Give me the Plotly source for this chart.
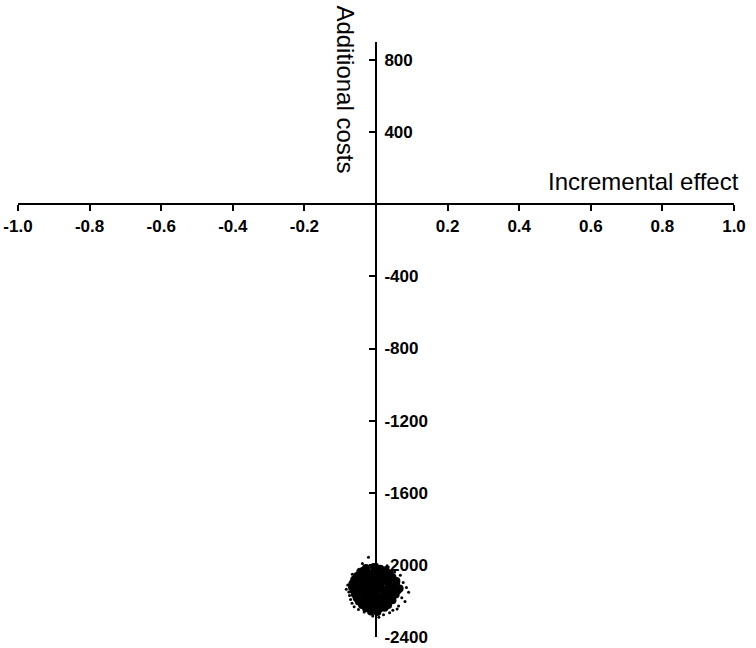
import plotly.graph_objects as go

# axis setup
x_range = [-1.0, 1.0]
y_range = [-2400, 900]
x_tickvals = [-1.0, -0.8, -0.6, -0.4, -0.2, 0.2, 0.4, 0.6, 0.8, 1.0]
x_ticktext = ['-1.0', '-0.8', '-0.6', '-0.4', '-0.2', '0.2', '0.4', '0.6', '0.8', '1.0']
y_tickvals = [800, 400, -400, -800, -1200, -1600, -2000, -2400]
y_ticktext = ['800', '400', '-400', '-800', '-1200', '-1600', '-2000', '-2400']

# bootstrap replicates, dense core of the cloud
core_x = [-0.028, -0.006, 0.012, 0.027,
          -0.044, -0.022, -0.003, 0.018, 0.038,
          -0.053, -0.036, -0.014, 0.006, 0.024, 0.046,
          -0.061, -0.041, -0.021, 0.002, 0.019, 0.041, 0.057,
          -0.066, -0.046, -0.027, -0.004, 0.016, 0.034, 0.056,
          -0.067, -0.047, -0.024, -0.007, 0.013, 0.036, 0.054, 0.066,
          -0.062, -0.038, -0.019, 0.001, 0.022, 0.042, 0.061,
          -0.059, -0.042, -0.018, -0.001, 0.021, 0.038, 0.055,
          -0.054, -0.033, -0.016, 0.007, 0.026, 0.044,
          -0.048, -0.031, -0.009, 0.011, 0.029, 0.046,
          -0.039, -0.021, 0.002, 0.018, 0.034,
          -0.028, -0.011, 0.009, 0.024,
          -0.014, 0.004,
          -0.035, 0.030, -0.010, 0.010, -0.030, 0.045, -0.050, 0.000, -0.020, 0.030]
core_y = [-2018, -2012, -2022, -2030,
          -2038, -2044, -2035, -2041, -2047,
          -2062, -2058, -2066, -2057, -2063, -2068,
          -2083, -2078, -2086, -2080, -2088, -2076, -2090,
          -2104, -2098, -2107, -2101, -2095, -2108, -2102,
          -2124, -2118, -2127, -2119, -2129, -2116, -2125, -2131,
          -2143, -2147, -2139, -2146, -2138, -2149, -2141,
          -2163, -2158, -2166, -2159, -2167, -2157, -2164,
          -2184, -2178, -2186, -2179, -2188, -2176,
          -2203, -2197, -2206, -2198, -2204, -2196,
          -2222, -2217, -2225, -2216, -2223,
          -2241, -2236, -2244, -2238,
          -2258, -2262,
          -2090, -2150, -2170, -2110, -2130, -2130, -2150, -2200, -2060, -2080]

# scattered replicates at the edge of the cloud
halo_x = [-0.021, -0.038, 0.003, 0.031, -0.066, 0.068, -0.079, 0.076, 0.091, -0.076,
          0.072, -0.071, 0.081, -0.067, -0.061, 0.063, -0.049, 0.047, -0.033, 0.038,
          0.021, -0.009, 0.008, -0.058, 0.052, -0.074, 0.085, -0.083, 0.059, -0.040]
halo_y = [-1958, -1992, -1998, -2005, -2052, -2058, -2112, -2098, -2152, -2151,
          -2183, -2192, -2203, -2213, -2232, -2228, -2247, -2252, -2262, -2266,
          -2276, -2283, -2290, -2070, -2040, -2170, -2125, -2135, -2245, -2020]

tick_font = dict(family='Arial, Liberation Sans', size=17, color='black', weight='bold')
label_font = dict(family='Arial, Liberation Sans', size=24, color='black')

fig = go.Figure()
fig.add_trace(go.Scatter(x=core_x, y=core_y, mode='markers',
                         marker=dict(color='black', size=8), showlegend=False))
fig.add_trace(go.Scatter(x=halo_x, y=halo_y, mode='markers',
                         marker=dict(color='black', size=3), showlegend=False))

# x axis crosses at cost 0, y axis at effect 0
x_axis_pos = (0 - y_range[0]) / (y_range[1] - y_range[0])
y_axis_pos = (0 - x_range[0]) / (x_range[1] - x_range[0])

fig.update_layout(
    width=756, height=648,
    margin=dict(l=18, r=22, t=42, b=11),
    paper_bgcolor='white', plot_bgcolor='white',
    xaxis=dict(range=x_range, tickvals=x_tickvals, ticktext=x_ticktext, tickfont=tick_font,
               showline=True, linecolor='black', linewidth=2, ticks='outside', ticklen=6,
               tickwidth=2, tickcolor='black', showgrid=False, zeroline=False,
               anchor='free', position=x_axis_pos, automargin=False),
    yaxis=dict(range=y_range, tickvals=y_tickvals, ticktext=y_ticktext, tickfont=tick_font,
               showline=True, linecolor='black', linewidth=2, ticks='inside', ticklen=6,
               tickwidth=2, tickcolor='black', showgrid=False, zeroline=False,
               ticklabelstandoff=4,
               side='right', anchor='free', position=y_axis_pos, automargin=False),
    annotations=[
        dict(text='Incremental effect', xref='paper', yref='paper', x=1.01, y=0.766,
             xanchor='right', yanchor='middle', showarrow=False, font=label_font),
        dict(text='Additional costs', xref='paper', yref='paper', x=0.457, y=0.92,
             xanchor='center', yanchor='middle', textangle=90, showarrow=False, font=label_font),
    ],
)

# drop the page's default body margin so the figure sits at the window corner
fig.write_html('out.html', config={'displayModeBar': False},
               post_script="document.body.style.margin='0';")
